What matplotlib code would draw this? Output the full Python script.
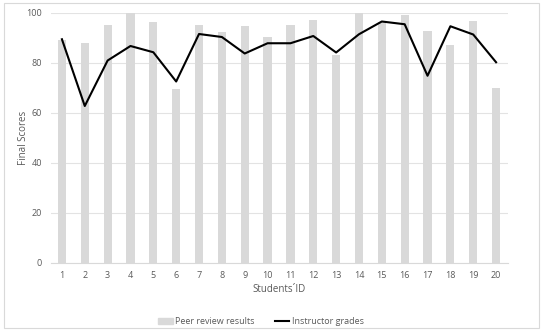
import matplotlib
matplotlib.use("Agg")
import matplotlib.pyplot as plt
from matplotlib.patches import Rectangle
from matplotlib.lines import Line2D

students = list(range(1, 21))
peer_review = [89.1, 88.0, 95.1, 100.0, 96.4, 69.8, 95.1, 92.3, 94.7, 90.4,
               95.1, 97.1, 83.4, 100.0, 96.4, 99.2, 92.7, 87.1, 96.8, 70.0]
instructor = [89.5, 62.8, 81.0, 86.8, 84.3, 72.6, 91.6, 90.4, 83.8, 87.9,
              87.9, 90.8, 84.2, 91.5, 96.6, 95.5, 74.9, 94.7, 91.4, 80.3]
yticks = [0, 20, 40, 60, 80, 100]

plt.rcParams['font.family'] = ['Open Sans', 'DejaVu Sans']
W, H = 550, 330
fig = plt.figure(figsize=(W/100, H/100), dpi=100)
txt = '#595959'

ax = fig.add_axes([50.5/W, (H-263)/H, (507.5-50.5)/W, (263-13)/H])
ax.bar(students, peer_review, width=0.36, color='#d9d9d9', zorder=2)
ax.plot(students, instructor, color='black', lw=1.5, zorder=3)
ax.set_xlim(0.5, 20.5)
ax.set_ylim(0, 100)
ax.set_yticks(yticks)
ax.set_xticks(students)
ax.grid(axis='y', color='#e3e3e3', lw=0.8, zorder=0)
for s in ['top', 'right', 'left']:
    ax.spines[s].set_visible(False)
ax.spines['bottom'].set_color('#d9d9d9')
ax.tick_params(axis='both', length=0, labelsize=6.5, colors=txt, pad=6)
ax.set_xlabel('Students´ID', fontsize=7, color=txt, labelpad=3)
ax.set_ylabel('Final Scores', fontsize=7, color=txt, labelpad=-2)

handles = [Rectangle((0, 0), 1, 1, color='#d9d9d9'),
           Line2D([0], [0], color='black', lw=1.5)]
fig.legend(handles, ['Peer review results', 'Instructor grades'],
           loc='center', bbox_to_anchor=(261/W, (H-321.5)/H), ncol=2,
           frameon=False, fontsize=6.5, labelcolor=txt, handlelength=1.6,
           handletextpad=0.3, columnspacing=2.2, handleheight=0.6)

fig.patches.append(Rectangle((4/W, 2/H), 535/W, 325/H, transform=fig.transFigure,
                             fill=False, edgecolor='#d9d9d9', lw=0.8))
fig.savefig('out.png', dpi=100)
